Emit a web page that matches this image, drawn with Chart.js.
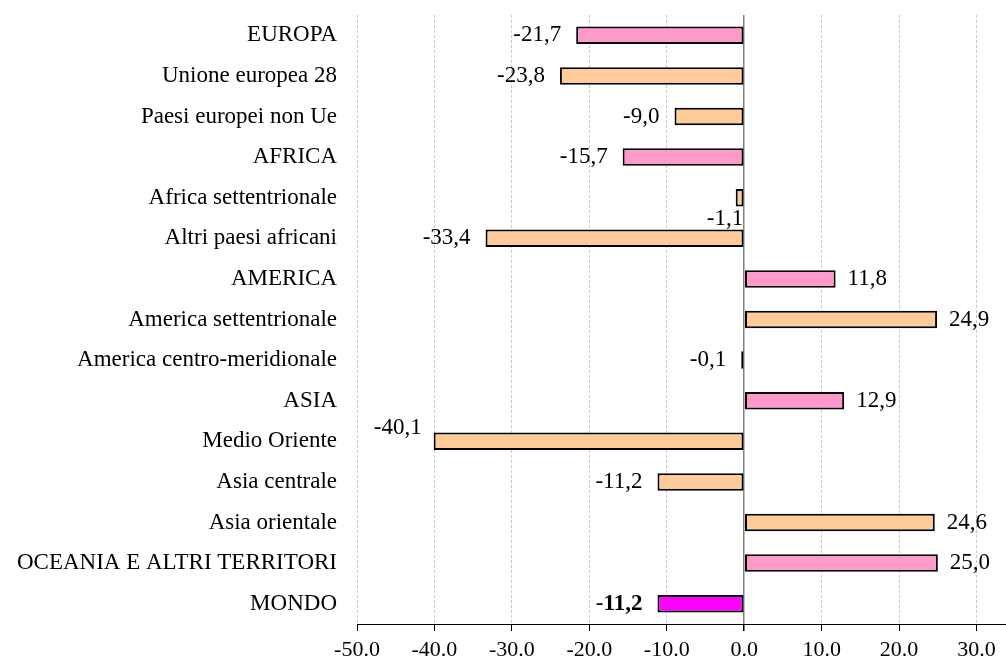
<!DOCTYPE html>
<html>
<head>
<meta charset="utf-8">
<script src="https://cdn.jsdelivr.net/npm/chart.js@4/dist/chart.umd.min.js"></script>
<style>
  html, body { margin: 0; padding: 0; background: #ffffff; }
  #wrap { width: 1006px; height: 659px; }
</style>
</head>
<body>
<div id="wrap"><canvas id="chart" width="1006" height="659"></canvas></div>
<script>
// Variazione percentuale per area geografica
const categories = [
  'EUROPA', 'Unione europea 28', 'Paesi europei non Ue',
  'AFRICA', 'Africa settentrionale', 'Altri paesi africani',
  'AMERICA', 'America settentrionale', 'America centro-meridionale',
  'ASIA', 'Medio Oriente', 'Asia centrale', 'Asia orientale',
  'OCEANIA E ALTRI TERRITORI', 'MONDO'
];
const values = [-21.7, -23.8, -9.0, -15.7, -1.1, -33.4, 11.8, 24.9, -0.1, 12.9, -40.1, -11.2, 24.6, 25.0, -11.2];
// 'area' = continente, 'sub' = sottoarea, 'world' = totale
const levels = ['area', 'sub', 'sub', 'area', 'sub', 'sub', 'area', 'sub', 'sub', 'area', 'sub', 'sub', 'sub', 'area', 'world'];
const xTickValues = [-50, -40, -30, -20, -10, 0, 10, 20, 30];

const levelColors = { area: '#FF99CC', sub: '#FFCC99', world: '#FF00FF' };
const FONT = '"Liberation Serif", "Times New Roman", serif';
const LABEL_SIZE = 23;

// Label nudges for crowded bars
const labelNudge = {
  'Africa settentrionale': { mode: 'below' },
  'Medio Oriente': { mode: 'above' }
};

const fmt = v => v.toFixed(1).replace('.', ',');

const valueLabels = {
  id: 'valueLabels',
  afterDatasetsDraw(chart) {
    const ctx = chart.ctx;
    const meta = chart.getDatasetMeta(0);
    const zeroX = chart.scales.x.getPixelForValue(0);
    ctx.save();
    ctx.fillStyle = '#000000';
    ctx.textBaseline = 'middle';
    meta.data.forEach((bar, i) => {
      const v = values[i];
      const txt = fmt(v);
      const nudge = labelNudge[categories[i]];
      let x, y = bar.y, align;
      if (nudge && nudge.mode === 'below') {
        x = zeroX - 1; y = bar.y + 21; align = 'right';
      } else if (nudge && nudge.mode === 'above') {
        x = bar.x - 12; y = bar.y - 13; align = 'right';
      } else if (v < 0) {
        x = bar.x - 15; align = 'right';
      } else {
        x = bar.x + 12; align = 'left';
      }
      if (levels[i] === 'world') {
        // minus sign regular, digits bold
        const digits = txt.replace('-', '');
        ctx.font = 'bold ' + LABEL_SIZE + 'px ' + FONT;
        const wd = ctx.measureText(digits).width;
        ctx.textAlign = 'right';
        ctx.fillText(digits, x, y);
        ctx.font = LABEL_SIZE + 'px ' + FONT;
        ctx.fillText('-', x - wd, y);
      } else {
        ctx.font = LABEL_SIZE + 'px ' + FONT;
        ctx.textAlign = align;
        ctx.fillText(txt, x, y);
      }
    });
    ctx.restore();
  }
};

new Chart(document.getElementById('chart'), {
  type: 'bar',
  data: {
    labels: categories,
    datasets: [{
      data: values,
      backgroundColor: levels.map(l => levelColors[l]),
      borderColor: '#000000',
      borderWidth: 2,
      borderSkipped: false,
      minBarLength: 3,
      barPercentage: 0.43,
      categoryPercentage: 1.0
    }]
  },
  options: {
    indexAxis: 'y',
    responsive: false,
    animation: false,
    layout: { padding: { top: 15, right: 0, bottom: 0, left: 0 } },
    plugins: {
      legend: { display: false },
      tooltip: { enabled: false }
    },
    scales: {
      x: {
        min: -50,
        max: 33.8,
        afterFit(scale) {
          scale.height = 35;
          scale.paddingLeft = 0; scale.paddingRight = 0;
        },
        afterBuildTicks(scale) { scale.ticks = xTickValues.map(v => ({ value: v })); },
        ticks: {
          callback: v => Number(v).toFixed(1),
          color: '#000000',
          font: { family: FONT, size: 22 },
          padding: 6,
          maxRotation: 0,
          autoSkip: false
        },
        grid: {
          color: c => (c.tick && c.tick.value === 0) ? '#808080' : '#c8c8c8',
          lineWidth: c => (c.tick && c.tick.value === 0) ? 1.5 : 1,
          borderDash: c => (c.tick && c.tick.value === 0) ? [] : [3, 2],
          tickColor: '#000000',
          tickLength: 7,
          drawTicks: true
        },
        border: {
          display: true,
          color: '#000000',
          width: 1,
          dash: c => (c.tick && c.tick.value === 0) ? [] : [3, 2]
        }
      },
      y: {
        afterFit(scale) {
          scale.width = 357;
          scale.paddingTop = 0; scale.paddingBottom = 0;
        },
        ticks: {
          color: '#000000',
          font: { family: FONT, size: 23 },
          padding: 20
        },
        grid: { display: false, drawTicks: false },
        border: { display: false }
      }
    }
  },
  plugins: [valueLabels]
});
</script>
</body>
</html>
